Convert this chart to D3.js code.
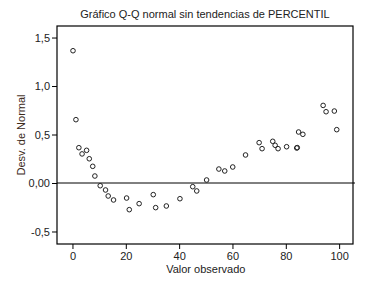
<!DOCTYPE html>
<html>
<head>
<meta charset="utf-8">
<script src="https://cdn.jsdelivr.net/npm/d3@7"></script>
<style>
  html, body { margin: 0; padding: 0; background: #fff; overflow: hidden; }
  svg { display: block; }
  text { font-family: "Liberation Sans", Arial, sans-serif; fill: #222; }
</style>
</head>
<body>
<svg width="368" height="284"></svg>
<script>
const observed = [0.2, 1.3, 2.4, 3.6, 5.3, 6.3, 7.6, 8.4, 10.4, 12.4, 13.4, 15.4, 20.3, 21.3, 25.0,
  30.3, 31.2, 35.2, 40.3, 45.1, 46.6, 50.3, 54.9, 57.1, 60.1, 64.9, 70.0, 71.1, 75.1, 76.0,
  77.1, 80.3, 84.1, 84.3, 84.8, 86.4, 94.0, 95.1, 98.2, 99.1];
const deviation = [1.364, 0.653, 0.364, 0.30, 0.337, 0.25, 0.172, 0.072, -0.028, -0.072, -0.134, -0.175, -0.155, -0.275, -0.213,
  -0.12, -0.254, -0.237, -0.162, -0.038, -0.082, 0.031, 0.144, 0.124, 0.165, 0.289, 0.416, 0.354, 0.43, 0.389,
  0.354, 0.374, 0.361, 0.365, 0.526, 0.502, 0.80, 0.735, 0.742, 0.55];
const xTicks = [0, 20, 40, 60, 80, 100];
const yTicks = [-0.5, 0, 0.5, 1.0, 1.5];
const yTickLabels = ['-0,5', '0,00', '0,5', '1,0', '1,5'];

const svg = d3.select('svg');
const margin = {top: 26, left: 57};
const innerWidth = 296;
const innerHeight = 218;

const data = observed.map((v, i) => ({x: v, y: deviation[i]}));

const xScale = d3.scaleLinear().domain([-5.8, 105.2]).range([0, innerWidth]);
const yScale = d3.scaleLinear().domain([-0.629, 1.619]).range([innerHeight, 0]);

const g = svg.append('g')
  .attr('transform', `translate(${margin.left},${margin.top})`);

// title
svg.append('text')
  .attr('x', 205)
  .attr('y', 18)
  .attr('text-anchor', 'middle')
  .style('font-size', '11px')
  .text('Gráfico Q-Q normal sin tendencias de PERCENTIL');

const yAxisG = g.append('g')
  .call(d3.axisLeft(yScale).tickValues(yTicks)
    .tickFormat((d, i) => yTickLabels[i]).tickSize(5).tickPadding(2));
yAxisG.select('.domain').remove();
yAxisG.selectAll('line').attr('stroke', '#000');
yAxisG.selectAll('text').style('font-size', '11px').attr('fill', '#222')
  .style('font-family', '"Liberation Sans", Arial, sans-serif');

const xAxisG = g.append('g')
  .attr('transform', `translate(0,${innerHeight})`)
  .call(d3.axisBottom(xScale).tickValues(xTicks).tickSize(5).tickPadding(3));
xAxisG.select('.domain').remove();
xAxisG.selectAll('line').attr('stroke', '#000');
xAxisG.selectAll('text').style('font-size', '11px').attr('fill', '#222')
  .style('font-family', '"Liberation Sans", Arial, sans-serif');

// frame
g.append('rect')
  .attr('width', innerWidth)
  .attr('height', innerHeight)
  .attr('fill', 'none')
  .attr('stroke', '#000')
  .attr('stroke-width', 1.2);

// zero reference line
g.append('line')
  .attr('x1', 0)
  .attr('x2', innerWidth + 2)
  .attr('y1', yScale(0))
  .attr('y2', yScale(0))
  .attr('stroke', '#000')
  .attr('stroke-width', 1);

g.selectAll('circle').data(data).enter().append('circle')
  .attr('cx', d => xScale(d.x))
  .attr('cy', d => yScale(d.y))
  .attr('r', 2.3)
  .attr('fill', 'none')
  .attr('stroke', '#222')
  .attr('stroke-width', 1);

// axis titles
svg.append('text')
  .attr('x', margin.left + xScale(50))
  .attr('y', 273)
  .attr('text-anchor', 'middle')
  .style('font-size', '11px')
  .text('Valor observado');

svg.append('text')
  .attr('transform', `translate(25,${margin.top + innerHeight / 2}) rotate(-90)`)
  .attr('text-anchor', 'middle')
  .style('font-size', '11px')
  .style('fill', '#3b2a1a')
  .text('Desv. de Normal');
</script>
</body>
</html>
